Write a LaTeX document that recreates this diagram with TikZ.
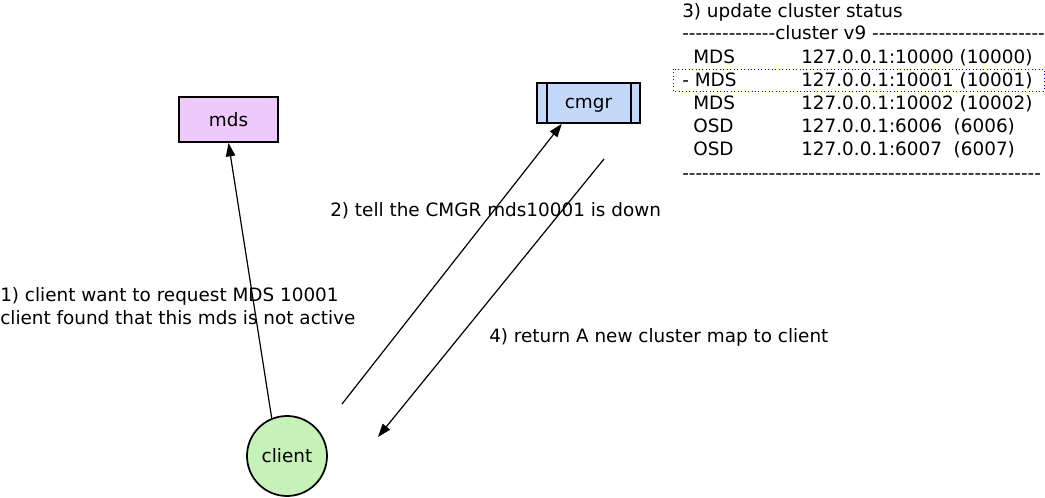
\documentclass[tikz,border=0pt]{standalone}
\usepackage{fontspec}
\setmainfont{DejaVu Sans}
\usetikzlibrary{arrows.meta}
\definecolor{mdsfill}{RGB}{238,201,251}
\definecolor{cmgrfill}{RGB}{196,216,249}
\definecolor{clientfill}{RGB}{198,241,184}
\newcommand\dashrun[1]{\foreach\k in {1,...,#1}{-{}}}

\begin{document}
\begin{tikzpicture}[x=0.75pt,y=-0.75pt,
    every node/.style={font=\fontsize{13.8}{17.25}\selectfont},
    txt/.style={anchor=base west,inner sep=0pt},
    msg/.style={line width=0.9pt,-{Triangle[length=10pt,width=7pt]}}]
    \useasboundingbox (0,0) rectangle (1045,498);
    \node[draw,line width=1.3pt,fill=mdsfill,minimum width=74pt,minimum
    height=34pt] (mds) at (228.5,119.5) {mds}; \node[draw,line
    width=1.3pt,fill=cmgrfill,minimum width=77pt,minimum height=30pt,
    text depth=0pt] (cmgr) at (588.5,103) {cmgr}; \draw[line width=1.3pt]
    ([xshift=8.25pt]cmgr.north west) -- ([xshift=8.25pt]cmgr.south west)
    ([xshift=-7.5pt]cmgr.north east) -- ([xshift=-7.5pt]cmgr.south east);
    \node[circle,draw,line width=1.3pt,fill=clientfill,minimum size=60pt,
    inner sep=0pt] (client) at (287,456) {client};
    \coordinate (tell) at (342,404); \coordinate (retfrom) at (604,159);
    \coordinate (retto) at (378,437);
    \draw[msg] (client.112) -- (mds.south); \draw[msg] (tell) --
    (cmgr.218); \draw[msg] (retfrom) -- (retto);
    \node[txt,align=left] (askmds) at (0,324.5) {1) client want to request
      MDS 10001\\client found that this mds is not active};
    \node[txt] (tellcmgr) at (330,216.5) {2) tell the CMGR mds10001 is down};
    \node[txt] (retmap) at (489,342.5) {4) return A new cluster map to client};
    \node[txt] (update) at (682,17.5) {3) update cluster status};
    \node[txt] (topline) at (682,39.5) {\dashrun{14}cluster v9 \dashrun{26}};
    \foreach \y/\x/\kind/\addr [count=\i] in
      {63.5/693/MDS/{127.0.0.1:10000 (10000)},86.5/682/- MDS/{127.0.0.1:10001
      (10001)},109.5/693/MDS/{127.0.0.1:10002 (10002)},132.5/693/OSD/{127.0.0.1:6006\
      \ (6006)},155.5/693/OSD/{127.0.0.1:6007\ \ (6007)}} {
      \node[txt] (kind\i) at (\x,\y) {\kind}; \node[txt] (addr\i) at
      (801,\y) {\addr}; }
    \node[txt] (botline) at (682,179.5) {\dashrun{54}};
    \draw[blue,dotted,line width=0.6pt] (673,69) rectangle (1044,91);
  \end{tikzpicture}
\end{document}
